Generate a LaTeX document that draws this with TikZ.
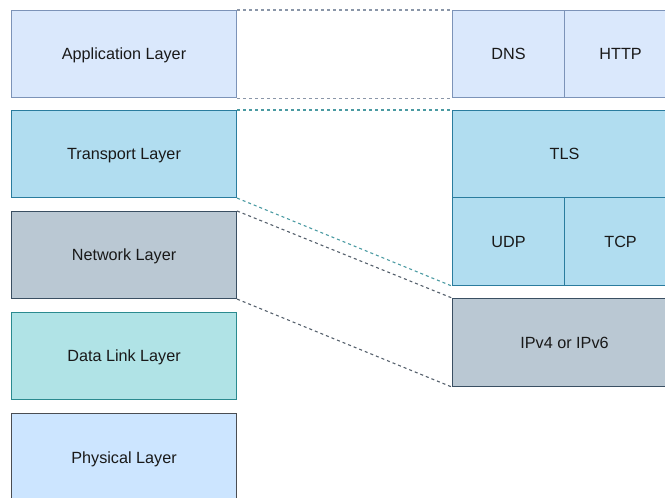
\documentclass[tikz,border=0pt]{standalone}
\usepackage{fontspec}
\setmainfont{Liberation Sans}
\begin{document}
\begin{tikzpicture}[x=1pt,y=-1pt,
  layer/.style={draw, line width=1.1pt, minimum width=225pt, minimum height=87pt,
    anchor=north west, inner sep=0pt, text=black!90,
    text height=11.6pt, text depth=0pt,
    font=\fontsize{16.2}{19}\selectfont},
  proto/.style={layer},
  appl/.style={fill=appF, draw=appS},
  trans/.style={fill=trnF, draw=trnS},
  netw/.style={fill=netF, draw=netS},
  link/.style={fill=dlkF, draw=dlkS},
  phys/.style={fill=phyF, draw=phyS},
  guide/.style={line width=1.1pt, dash pattern=on 3pt off 3pt}]
\definecolor{appF}{HTML}{DAE8FC}\definecolor{appS}{HTML}{7C93B8}
\definecolor{trnF}{HTML}{B1DDF0}\definecolor{trnS}{HTML}{2A7C9E}
\definecolor{netF}{HTML}{BAC8D3}\definecolor{netS}{HTML}{3A4F62}
\definecolor{dlkF}{HTML}{B0E3E6}\definecolor{dlkS}{HTML}{2A8A8F}
\definecolor{phyF}{HTML}{CCE5FF}\definecolor{phyS}{HTML}{4A4D52}
\definecolor{gApp}{HTML}{8A96A8}
\definecolor{gTrn}{HTML}{4A9AA2}
\definecolor{gNet}{HTML}{55606C}
\useasboundingbox (0,0) rectangle (665,498);
\clip (0,0) rectangle (665,498);

% OSI-style layer stack
\node[layer, appl]  (app) at (11,10)  {Application Layer};
\node[layer, trans] (trn) at (11,110) {Transport Layer};
\node[layer, netw]  (net) at (11,211) {Network Layer};
\node[layer, link]  (dlk) at (11,312) {Data Link Layer};
\node[layer, phys, minimum height=88pt] (phy) at (11,413) {Physical Layer};

% protocol stack
\node[proto, appl, minimum width=112pt] (dns)  at (452,10)  {DNS};
\node[proto, appl, minimum width=112pt] (http) at (564,10)  {HTTP};
\node[proto, trans, minimum width=224pt] (tls) at (452,110) {TLS};
\node[proto, trans, minimum width=112pt, minimum height=88pt] (udp) at (452,197) {UDP};
\node[proto, trans, minimum width=112pt, minimum height=88pt] (tcp) at (564,197) {TCP};
\node[proto, netw, minimum width=224pt, minimum height=88pt] (ip) at (452,298) {IPv4 or IPv6};

% correspondence guides
\draw[guide, gApp] (app.north east) -- (dns.north west);
\draw[guide, gApp] (app.south east) -- (dns.south west);
\draw[guide, gTrn] (trn.north east) -- (tls.north west);
\draw[guide, gTrn] (trn.south east) -- (udp.south west);
\draw[guide, gNet] (net.north east) -- (ip.north west);
\draw[guide, gNet] (net.south east) -- (ip.south west);
\end{tikzpicture}
\end{document}
